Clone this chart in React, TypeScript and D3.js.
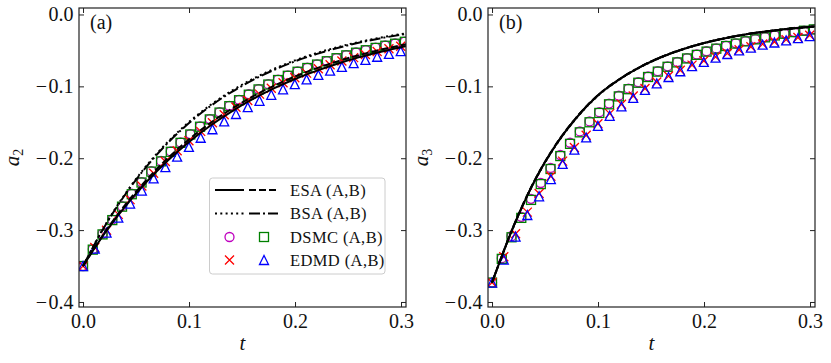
import React, { useRef, useEffect } from 'react';
import * as d3 from 'd3';

// sample times
const tCurve = [0, 0.02, 0.04, 0.06, 0.08, 0.1, 0.12, 0.14, 0.16, 0.18, 0.2, 0.22, 0.24, 0.26, 0.28, 0.3, 0.305];
const tDsmc = [0, 0.0092, 0.0184, 0.0276, 0.0368, 0.046, 0.0552, 0.0644, 0.0736, 0.0828, 0.092, 0.1012, 0.1104, 0.1196,
  0.1288, 0.138, 0.1472, 0.1564, 0.1656, 0.1748, 0.184, 0.1932, 0.2024, 0.2116, 0.2208, 0.23, 0.2392, 0.2484, 0.2576,
  0.2668, 0.276, 0.2852, 0.2944, 0.3036];
const tEdmd = [0, 0.0111, 0.0222, 0.0333, 0.0444, 0.0555, 0.0666, 0.0777, 0.0888, 0.0999, 0.111, 0.1221, 0.1332, 0.1443,
  0.1554, 0.1665, 0.1776, 0.1887, 0.1998, 0.2109, 0.222, 0.2331, 0.2442, 0.2553, 0.2664, 0.2775, 0.2886, 0.2997];

// panel (a): a2
const a2EsaA = [-0.35, -0.3055, -0.2667, -0.2328, -0.2031, -0.1773, -0.1548, -0.1351, -0.1179, -0.1029, -0.0898, -0.0784, -0.0685, -0.0597, -0.0522, -0.0455, -0.044];
const a2EsaB = [-0.35, -0.3043, -0.2645, -0.23, -0.1999, -0.1738, -0.1511, -0.1314, -0.1142, -0.0993, -0.0863, -0.075, -0.0652, -0.0567, -0.0493, -0.0429, -0.0414];
const a2BsaA = [-0.35, -0.2953, -0.2491, -0.2102, -0.1773, -0.1496, -0.1262, -0.1065, -0.0898, -0.0758, -0.0639, -0.0539, -0.0455, -0.0384, -0.0324, -0.0273, -0.0262];
const a2BsaB = [-0.35, -0.2959, -0.2501, -0.2114, -0.1787, -0.1511, -0.1277, -0.108, -0.0913, -0.0772, -0.0652, -0.0552, -0.0466, -0.0394, -0.0333, -0.0282, -0.027];
const a2DsmcA = [-0.35, -0.3265, -0.3052, -0.2855, -0.2668, -0.2494, -0.2332, -0.218, -0.2037, -0.1905, -0.178, -0.1664, -0.1556, -0.1455,
  -0.136, -0.1271, -0.1188, -0.111, -0.1038, -0.097, -0.0907, -0.0848, -0.0793, -0.0741, -0.0693, -0.0648, -0.0606, -0.0566,
  -0.0529, -0.0495, -0.0462, -0.0432, -0.0404, -0.0378];
const a2DsmcB = [-0.35, -0.3272, -0.306, -0.2861, -0.2674, -0.2501, -0.2338, -0.2186, -0.2044, -0.1911, -0.1786, -0.167, -0.1562, -0.146,
  -0.1365, -0.1276, -0.1193, -0.1116, -0.1043, -0.0975, -0.0912, -0.0853, -0.0797, -0.0745, -0.0697, -0.0651, -0.0609, -0.0569,
  -0.0532, -0.0498, -0.0465, -0.0435, -0.0407, -0.038];
const a2EdmdA = [-0.35, -0.3242, -0.3002, -0.2781, -0.2576, -0.2386, -0.221, -0.2046, -0.1895, -0.1756, -0.1626, -0.1506, -0.1395, -0.1292,
  -0.1197, -0.1108, -0.1026, -0.0951, -0.0881, -0.0816, -0.0755, -0.07, -0.0648, -0.06, -0.0556, -0.0515, -0.0477, -0.0442];
const a2EdmdB = [-0.35, -0.3259, -0.3035, -0.2826, -0.2631, -0.245, -0.2281, -0.2124, -0.1978, -0.1842, -0.1715, -0.1597, -0.1487, -0.1385,
  -0.1289, -0.1201, -0.1118, -0.1041, -0.0969, -0.0903, -0.084, -0.0782, -0.0729, -0.0678, -0.0632, -0.0588, -0.0548, -0.051];

// panel (b): a3
const a3EsaA = [-0.373, -0.296, -0.232, -0.182, -0.143, -0.1125, -0.0905, -0.073, -0.0592, -0.0484, -0.0398, -0.033, -0.0276, -0.0234, -0.02, -0.0173, -0.0168];
const a3EsaB = [-0.373, -0.2955, -0.2312, -0.1813, -0.1425, -0.1121, -0.0901, -0.0727, -0.0589, -0.0482, -0.0396, -0.0328, -0.0274, -0.0232, -0.0199, -0.0172, -0.0167];
const a3BsaA = [-0.373, -0.2965, -0.2325, -0.1826, -0.1436, -0.113, -0.0909, -0.0733, -0.0595, -0.0486, -0.04, -0.0332, -0.0278, -0.0236, -0.0202, -0.0175, -0.017];
const a3BsaB = [-0.373, -0.2958, -0.2318, -0.1818, -0.1428, -0.1123, -0.0903, -0.0728, -0.059, -0.0483, -0.0397, -0.0329, -0.0275, -0.0233, -0.0199, -0.0172, -0.0167];
const a3DsmcA = [-0.373, -0.339, -0.3085, -0.2815, -0.2565, -0.2345, -0.2135, -0.1955, -0.1785, -0.1628, -0.1488, -0.136, -0.124, -0.1131,
  -0.1032, -0.0943, -0.0863, -0.0789, -0.0722, -0.0661, -0.0607, -0.0557, -0.0512, -0.0472, -0.0435, -0.0401, -0.0371, -0.0343,
  -0.0315, -0.0289, -0.0265, -0.0244, -0.0224, -0.0206];
const a3DsmcB = [-0.373, -0.34, -0.31, -0.283, -0.258, -0.236, -0.215, -0.197, -0.18, -0.164, -0.15, -0.137, -0.125, -0.114,
  -0.104, -0.095, -0.087, -0.0795, -0.0728, -0.0667, -0.0612, -0.0562, -0.0517, -0.0476, -0.0439, -0.0405, -0.0374, -0.0346,
  -0.0318, -0.0292, -0.0268, -0.0246, -0.0226, -0.0208];
const a3EdmdA = [-0.373, -0.337, -0.305, -0.275, -0.249, -0.225, -0.204, -0.185, -0.168, -0.152, -0.138, -0.125, -0.1135, -0.103,
  -0.094, -0.0855, -0.0775, -0.0705, -0.0645, -0.059, -0.054, -0.049, -0.045, -0.041, -0.038, -0.035, -0.032, -0.029];
const a3EdmdB = [-0.373, -0.341, -0.309, -0.279, -0.253, -0.229, -0.208, -0.188, -0.171, -0.155, -0.141, -0.128, -0.116, -0.105,
  -0.096, -0.087, -0.079, -0.072, -0.066, -0.06, -0.055, -0.05, -0.046, -0.042, -0.039, -0.036, -0.033, -0.03];

const xTicks = [0, 0.1, 0.2, 0.3];
const yTicks = [0, -0.1, -0.2, -0.3, -0.4];
const legendLabels = ['ESA (A,B)', 'BSA (A,B)', 'DSMC (A,B)', 'EDMD (A,B)'];

const FONT = "Liberation Serif, serif";
const MS = 4.5; // half marker size

const lineStyles = [
  { key: 'esaA', dash: null },
  { key: 'esaB', dash: '7,3' },
  { key: 'bsaA', dash: '2,3.3' },
  { key: 'bsaB', dash: '11,3,2,3' },
];

function drawMarker(g, kind, cx, cy) {
  if (kind === 'circle') {
    g.append('circle').attr('cx', cx).attr('cy', cy).attr('r', MS)
      .attr('fill', 'none').attr('stroke', '#bf00bf').attr('stroke-width', 1.3);
  } else if (kind === 'square') {
    g.append('rect').attr('x', cx - MS).attr('y', cy - MS).attr('width', 2 * MS).attr('height', 2 * MS)
      .attr('fill', 'none').attr('stroke', '#008000').attr('stroke-width', 1.3);
  } else if (kind === 'cross') {
    g.append('path')
      .attr('d', `M${cx - MS},${cy - MS}L${cx + MS},${cy + MS}M${cx - MS},${cy + MS}L${cx + MS},${cy - MS}`)
      .attr('stroke', '#ff0000').attr('stroke-width', 1.3).attr('fill', 'none');
  } else {
    g.append('path')
      .attr('d', `M${cx},${cy - MS}L${cx - MS},${cy + MS}L${cx + MS},${cy + MS}Z`)
      .attr('fill', 'none').attr('stroke', '#0000ff').attr('stroke-width', 1.3);
  }
}

export default function App() {
  const svgRef = useRef(null);

  useEffect(() => {
    const svg = d3.select(svgRef.current);
    svg.selectAll('*').remove();

    const top = 8;
    const bottom = 307;

    const panels = [
      { id: 'a', left: 79, right: 406, sub: '2', esaA: a2EsaA, esaB: a2EsaB, bsaA: a2BsaA, bsaB: a2BsaB,
        dsmcA: a2DsmcA, dsmcB: a2DsmcB, edmdA: a2EdmdA, edmdB: a2EdmdB },
      { id: 'b', left: 488, right: 815, sub: '3', esaA: a3EsaA, esaB: a3EsaB, bsaA: a3BsaA, bsaB: a3BsaB,
        dsmcA: a3DsmcA, dsmcB: a3DsmcB, edmdA: a3EdmdA, edmdB: a3EdmdB },
    ];

    panels.forEach((p) => {
      const x = d3.scaleLinear().domain([-0.0038, 0.3047]).range([p.left, p.right]);
      const y = d3.scaleLinear().domain([-0.407, 0.009]).range([bottom, top]);

      svg.append('clipPath').attr('id', 'clip-' + p.id)
        .append('rect').attr('x', p.left).attr('y', top)
        .attr('width', p.right - p.left).attr('height', bottom - top);

      const plot = svg.append('g').attr('clip-path', `url(#clip-${p.id})`);

      // markers
      const mk = plot.append('g');
      tDsmc.forEach((t, i) => drawMarker(mk, 'circle', x(t), y(p.dsmcA[i])));
      tDsmc.forEach((t, i) => drawMarker(mk, 'square', x(t), y(p.dsmcB[i])));
      tEdmd.forEach((t, i) => drawMarker(mk, 'cross', x(t), y(p.edmdA[i])));
      tEdmd.forEach((t, i) => drawMarker(mk, 'triangle', x(t), y(p.edmdB[i])));

      // theory curves
      lineStyles.forEach((ls) => {
        const vals = p[ls.key];
        const line = d3.line()
          .x((d, i) => x(tCurve[i]))
          .y((d) => y(d))
          .curve(d3.curveMonotoneX);
        const path = plot.append('path')
          .datum(vals)
          .attr('fill', 'none')
          .attr('stroke', '#000')
          .attr('stroke-width', 2)
          .attr('d', line);
        if (ls.dash) path.attr('stroke-dasharray', ls.dash);
      });

      // axes
      const styleAxis = (g) => {
        g.select('.domain').remove();
        g.selectAll('line').attr('stroke', '#222').attr('stroke-width', 1);
        g.selectAll('text').attr('font-family', FONT).attr('font-size', 20).attr('fill', '#111');
        g.attr('font-family', FONT);
      };

      svg.append('g')
        .attr('transform', `translate(0,${bottom})`)
        .call(d3.axisBottom(x).tickValues(xTicks).tickSize(-5).tickPadding(7).tickFormat(d3.format('.1f')))
        .call(styleAxis);
      svg.append('g')
        .attr('transform', `translate(0,${top})`)
        .call(d3.axisTop(x).tickValues(xTicks).tickSize(-5).tickFormat(() => ''))
        .call(styleAxis);
      const yAx = svg.append('g')
        .attr('transform', `translate(${p.left},0)`)
        .call(d3.axisLeft(y).tickValues(yTicks).tickSize(-5).tickPadding(5.5).tickFormat(d3.format('.1f')))
        .call(styleAxis);
      // a little room after the minus sign, like the TeX one
      yAx.selectAll('text').each(function () {
        const el = d3.select(this);
        const s = el.text();
        if (s.startsWith('−')) {
          el.text('');
          el.append('tspan').text('−');
          el.append('tspan').attr('dx', 1.5).text(s.slice(1));
        }
      });
      svg.append('g')
        .attr('transform', `translate(${p.right},0)`)
        .call(d3.axisRight(y).tickValues(yTicks).tickSize(-5).tickFormat(() => ''))
        .call(styleAxis);

      // frame
      svg.append('rect')
        .attr('x', p.left).attr('y', top)
        .attr('width', p.right - p.left).attr('height', bottom - top)
        .attr('fill', 'none').attr('stroke', '#222').attr('stroke-width', 1.2);

      // panel tag
      svg.append('text')
        .attr('x', p.left + 11).attr('y', 29)
        .attr('font-family', FONT).attr('font-size', 20).attr('fill', '#111')
        .text(`(${p.id})`);

      // x label
      svg.append('text')
        .attr('x', (p.left + p.right) / 2).attr('y', 350)
        .attr('text-anchor', 'middle')
        .attr('font-family', FONT).attr('font-style', 'italic').attr('font-size', 21).attr('fill', '#111')
        .text('t');

      // y label
      const yl = svg.append('text')
        .attr('transform', `translate(${p.left - 60},${(top + bottom) / 2}) rotate(-90)`)
        .attr('text-anchor', 'middle')
        .attr('font-family', FONT).attr('font-size', 21).attr('fill', '#111');
      yl.append('tspan').attr('font-style', 'italic').text('a');
      yl.append('tspan').attr('font-size', 14).attr('dy', 4).text(p.sub);
    });

    // legend, panel (a)
    const lg = svg.append('g');
    lg.append('rect')
      .attr('x', 209.5).attr('y', 178).attr('width', 175.5).attr('height', 96).attr('rx', 3)
      .attr('fill', '#fff').attr('fill-opacity', 0.8)
      .attr('stroke', '#cccccc').attr('stroke-width', 1);
    const rowY = [190, 213.5, 237, 260];
    const handle = (x1, x2, yy, dash) => {
      const l = lg.append('line').attr('x1', x1).attr('x2', x2).attr('y1', yy).attr('y2', yy)
        .attr('stroke', '#000').attr('stroke-width', 2);
      if (dash) l.attr('stroke-dasharray', dash);
    };
    handle(215, 244, rowY[0], null);
    handle(249, 278, rowY[0], lineStyles[1].dash);
    handle(215, 244, rowY[1], lineStyles[2].dash);
    handle(249, 278, rowY[1], lineStyles[3].dash);
    drawMarker(lg, 'circle', 229.5, rowY[2]);
    drawMarker(lg, 'square', 264, rowY[2]);
    drawMarker(lg, 'cross', 229.5, rowY[3]);
    drawMarker(lg, 'triangle', 264, rowY[3]);
    legendLabels.forEach((lab, i) => {
      lg.append('text')
        .attr('x', 290).attr('y', rowY[i] + 5.5)
        .attr('font-family', FONT).attr('font-size', 16.5).attr('letter-spacing', 0.4).attr('fill', '#111')
        .text(lab);
    });
  }, []);

  return (
    <svg
      ref={svgRef}
      width={831}
      height={363}
      viewBox="0 0 831 363"
      style={{ position: 'absolute', left: 0, top: 0, background: '#fff' }}
    />
  );
}
